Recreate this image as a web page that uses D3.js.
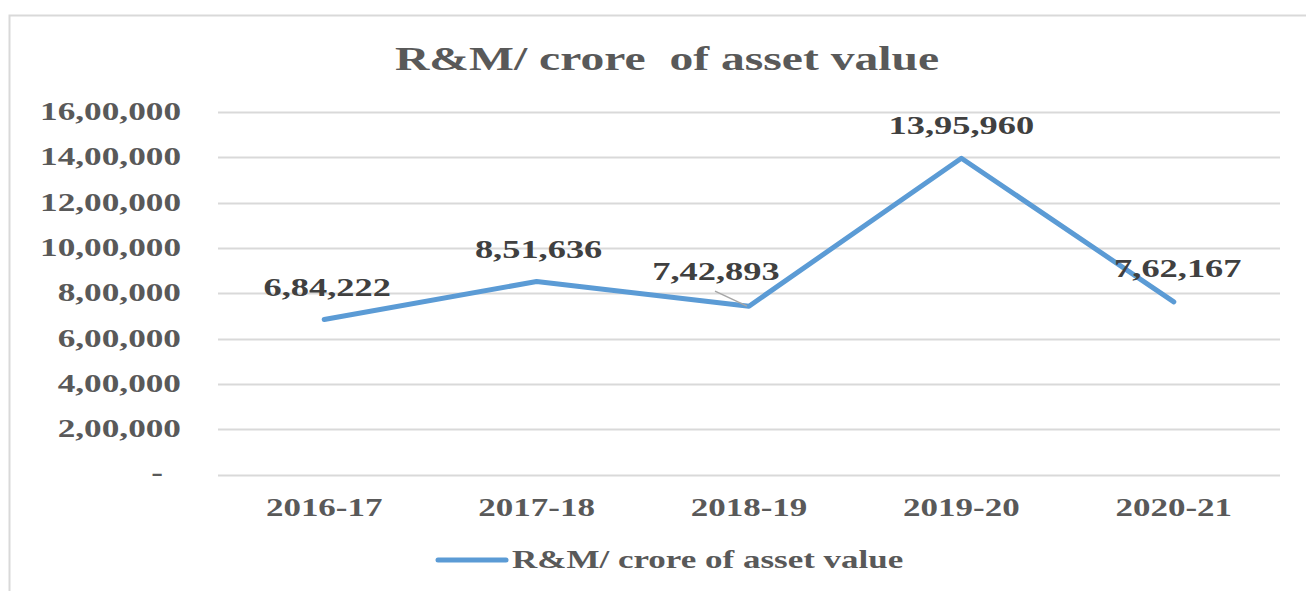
<!DOCTYPE html>
<html><head><meta charset="utf-8">
<script src="https://cdn.jsdelivr.net/npm/d3@7"></script>
<style>body{margin:0;background:#fff}svg{display:block}</style>
</head><body>
<svg id="c" width="1306" height="591"></svg>
<script>
const categories = ["2016-17","2017-18","2018-19","2019-20","2020-21"];
const values = [684222, 851636, 742893, 1395960, 762167];
const valueLabels = ["6,84,222","8,51,636","7,42,893","13,95,960","7,62,167"];
const yTicks = [0,200000,400000,600000,800000,1000000,1200000,1400000,1600000];
const yTickLabels = ["-","2,00,000","4,00,000","6,00,000","8,00,000","10,00,000","12,00,000","14,00,000","16,00,000"];
const seriesName = "R&M/ crore of asset value";
const titleText = "R&M/ crore  of asset value";

const svg = d3.select("#c");
const FONT = "'Liberation Serif','Times New Roman',serif";

function txt(t, x, y, anchor, size, color, sx) {
  return svg.append("text")
    .attr("transform", `translate(${x},${y}) scale(${sx},1)`)
    .attr("text-anchor", anchor)
    .attr("font-family", FONT).attr("font-weight", "bold")
    .attr("font-size", size).attr("fill", color)
    .style("white-space", "pre").text(t);
}

// outer border
svg.append("rect").attr("x", 9.5).attr("y", 15.5).attr("width", 1400).attr("height", 700)
  .attr("fill", "none").attr("stroke", "#d9d9d9").attr("stroke-width", 2);

const x = d3.scaleBand().domain(categories).range([218, 1280]);
const y = d3.scaleLinear().domain([0, 1600000]).range([474.5, 112]);

// gridlines
svg.append("g").selectAll("line").data(yTicks).join("line")
  .attr("x1", 218).attr("x2", 1280)
  .attr("y1", d => Math.round(y(d)) + 0.5).attr("y2", d => Math.round(y(d)) + 0.5)
  .attr("stroke", "#d9d9d9").attr("stroke-width", 2);

// y tick labels
yTicks.forEach((d, i) => {
  if (d === 0) txt(yTickLabels[i], 163, y(d) + 6, "end", 25, "#595959", 1.41);
  else txt(yTickLabels[i], 181, y(d) + 8, "end", 25, "#595959", 1.41);
});

// x labels
categories.forEach(c => txt(c, x(c) + x.bandwidth() / 2, 516, "middle", 25, "#595959", 1.40));

// title
txt(titleText, 667, 70, "middle", 34, "#595959", 1.40);

// line
const cx = c => x(c) + x.bandwidth() / 2;
const line = d3.line().x((d, i) => cx(categories[i])).y(d => y(d));
svg.append("path").datum(values).attr("d", line).attr("fill", "none")
  .attr("stroke", "#5B9BD5").attr("stroke-width", 5).attr("stroke-linejoin", "round").attr("stroke-linecap", "round");

// leader line for third label
svg.append("line").attr("x1", cx(categories[2]) - 34).attr("y1", y(values[2]) - 15)
  .attr("x2", cx(categories[2]) - 2).attr("y2", y(values[2]))
  .attr("stroke", "#a6a6a6").attr("stroke-width", 1.5);

// data labels
const offs = [[3,-23],[2,-24],[-33,-26],[0,-24],[4,-25]];
values.forEach((v, i) => {
  txt(valueLabels[i], cx(categories[i]) + offs[i][0], y(v) + offs[i][1], "middle", 26, "#404040", 1.40);
});

// legend
svg.append("line").attr("x1", 438).attr("x2", 506).attr("y1", 560).attr("y2", 560)
  .attr("stroke", "#5B9BD5").attr("stroke-width", 5).attr("stroke-linecap", "round");
txt(seriesName, 512, 568, "start", 25, "#595959", 1.40);
</script>
</body></html>
